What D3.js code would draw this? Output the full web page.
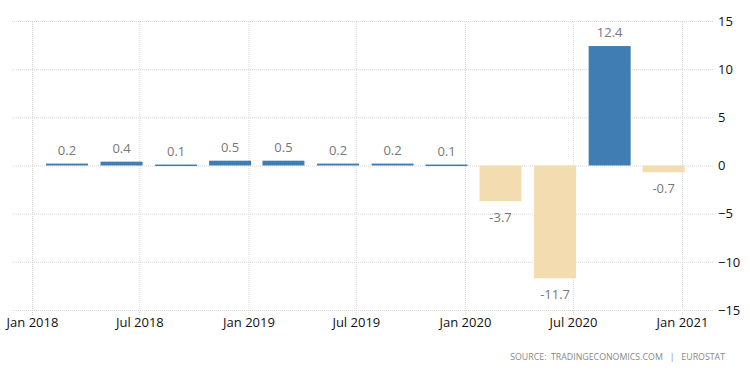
<!DOCTYPE html>
<html>
<head>
<meta charset="utf-8">
<script src="https://cdn.jsdelivr.net/npm/d3@7"></script>
<style>
  body { margin: 0; background: #fff; }
  .grid line { stroke: #d8d8d8; stroke-dasharray: 1,1; }
  .grid path { display: none; }
  .axis path, .axis line { display: none; }
  .axis text { font-family: 'Open Sans', sans-serif; fill: #111; }
  .val { font-family: 'Open Sans', sans-serif; font-size: 13px; fill: #777; }
  .source { font-family: 'Open Sans', sans-serif; font-size: 8.8px; fill: #888; white-space: pre; }
</style>
</head>
<body>
<div id="canvas"></div>
<script>
// ---- DATA ----
var quarters = ['2018-03-01','2018-06-01','2018-09-01','2018-12-01',
                '2019-03-01','2019-06-01','2019-09-01','2019-12-01',
                '2020-03-01','2020-06-01','2020-09-01','2020-12-01'];
var values = [0.2, 0.4, 0.1, 0.5, 0.5, 0.2, 0.2, 0.1, -3.7, -11.7, 12.4, -0.7];
var xTicks = ['2018-01-01','2018-07-01','2019-01-01','2019-07-01','2020-01-01','2020-07-01','2021-01-01'];
var yTicks = [-15, -10, -5, 0, 5, 10, 15];

var parseDate = d3.timeParse('%Y-%m-%d');
var data = quarters.map(function(q, i){ return {date: parseDate(q), value: values[i]}; });

// ---- CONVENTIONS ----
var outerWidth = 750, outerHeight = 373;
var plotLeft = 12, plotRight = 713, plotTop = 21, plotBottom = 310;

var svg = d3.select('#canvas')
    .append('svg')
    .attr('width', outerWidth)
    .attr('height', outerHeight);

// ---- SCALES ----
var scaleX = d3.scaleTime()
    .domain([parseDate('2018-01-01'), parseDate('2021-01-01')])
    .range([32, 682]);

var scaleY = d3.scaleLinear()
    .domain([-15, 15])
    .range([plotBottom, plotTop]);

var barWidth = 42;

// ---- GRID ----
svg.append('g').attr('class', 'grid')
    .attr('transform', 'translate(' + plotLeft + ',0)')
    .call(d3.axisRight(scaleY).tickValues(yTicks).tickSize(plotRight - plotLeft).tickFormat(''));

svg.append('g').attr('class', 'grid')
    .attr('transform', 'translate(0,' + (plotBottom + 5) + ')')
    .call(d3.axisTop(scaleX).tickValues(xTicks.map(parseDate)).tickSize(plotBottom + 5 - plotTop).tickFormat(''));

// ---- AXES ----
svg.append('g').attr('class', 'axis axis-x')
    .attr('transform', 'translate(0,' + (plotBottom + 5) + ')')
    .call(d3.axisBottom(scaleX).tickValues(xTicks.map(parseDate)).tickSize(0).tickPadding(3)
        .tickFormat(d3.timeFormat('%b %Y')))
    .selectAll('text').style('font-size', '13px');

svg.append('g').attr('class', 'axis axis-y')
    .attr('transform', 'translate(' + plotRight + ',0)')
    .call(d3.axisRight(scaleY).tickValues(yTicks).tickSize(0).tickPadding(5))
    .selectAll('text').style('font-size', '13px');

// ---- BARS ----
svg.selectAll('.bar')
    .data(data)
    .enter().append('rect')
    .attr('class', 'bar')
    .attr('x', function(d){ return scaleX(d.date) - barWidth / 2; })
    .attr('y', function(d){ return scaleY(Math.max(0, d.value)); })
    .attr('width', barWidth)
    .attr('height', function(d){ return Math.max(1.5, Math.abs(scaleY(d.value) - scaleY(0))); })
    .style('fill', function(d){ return d.value >= 0 ? '#3f7db2' : '#f3dcb0'; });

svg.selectAll('.val')
    .data(data)
    .enter().append('text')
    .attr('class', 'val')
    .attr('x', function(d){ return scaleX(d.date); })
    .attr('y', function(d){ return d.value >= 0 ? scaleY(d.value) - 9 : scaleY(d.value) + 21; })
    .attr('text-anchor', 'middle')
    .text(function(d){ return d.value.toFixed(1); });

// source
svg.append('text')
    .attr('class', 'source')
    .attr('x', 725)
    .attr('y', 360)
    .attr('text-anchor', 'end')
    .text('SOURCE:  TRADINGECONOMICS.COM   |   EUROSTAT');
</script>
</body>
</html>
